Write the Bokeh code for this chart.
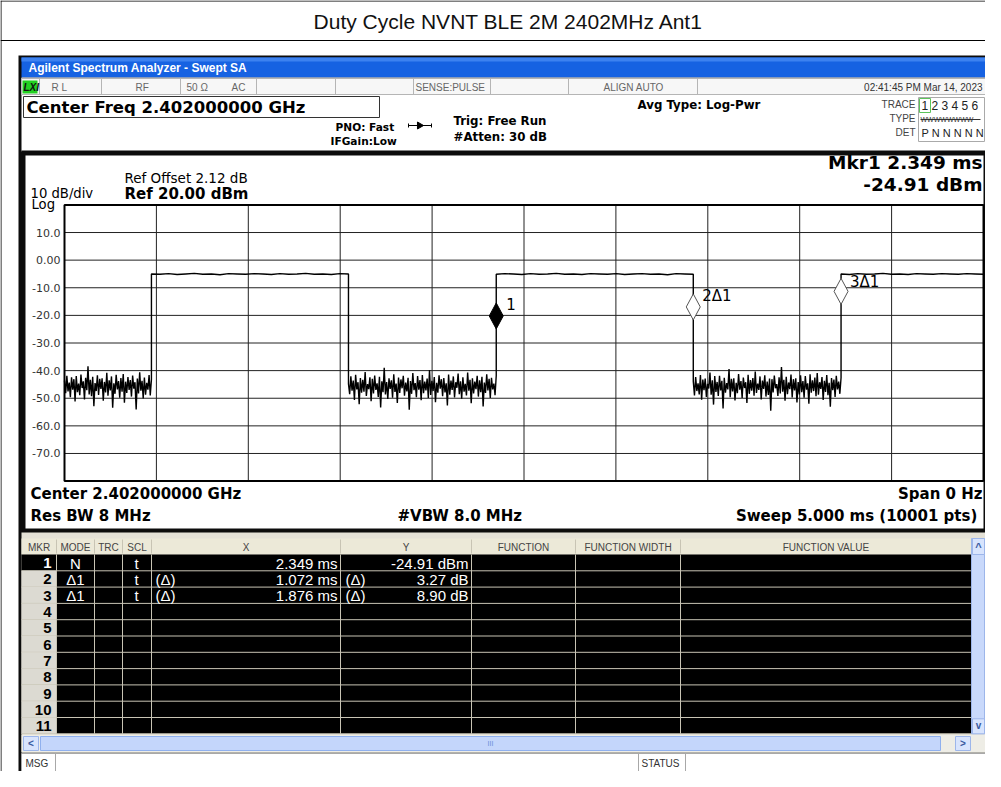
import numpy as np
from bokeh.plotting import figure
from bokeh.models import Range1d
from bokeh.core.properties import value
from bokeh.embed import file_html
from bokeh.resources import INLINE

# ---------------- data ----------------
title_text = "Duty Cycle NVNT BLE 2M 2402MHz Ant1"
ref_level_dbm = 20.0
bottom_dbm = -80.0
sweep_ms = 5.0
y_tick_values = [10, 0, -10, -20, -30, -40, -50, -60, -70]
y_tick_labels = ["10.0", "0.00", "-10.0", "-20.0", "-30.0", "-40.0", "-50.0", "-60.0", "-70.0"]
x_grid_ms = [0.5, 1.0, 1.5, 2.0, 2.5, 3.0, 3.5, 4.0, 4.5]

segment_start_ms = [0.000, 0.473, 1.545, 2.349, 3.421, 4.225]
segment_end_ms = [0.473, 1.545, 2.349, 3.421, 4.225, 5.000]

noise_a_dbm = [-43.6, -48.2, -41.9, -47.5, -44.3, -49.6, -42.4, -46.9, -43.1, -51.2, -42.0, -47.8, -44.7, -48.9,
               -41.4, -46.3, -43.9, -50.4, -42.6, -47.1, -38.4, -48.6, -43.3, -49.3, -42.2, -52.9, -44.5, -47.4,
               -41.7, -48.8, -43.0, -46.6, -42.8, -50.9, -44.1, -47.9, -40.8, -49.1, -43.5, -47.2, -42.1, -53.4,
               -44.6, -48.4, -41.5, -46.8, -43.8, -49.8, -42.7, -47.6, -41.2, -51.6, -44.0, -48.1, -42.3, -47.0,
               -43.4, -49.4, -41.8, -46.5, -44.2, -54.1, -42.9, -48.3, -40.6, -47.3, -43.7, -50.1, -42.5, -48.7,
               -44.4, -46.9, -41.6, -49.0, -43.2]
high_b_dbm = [-5.0, -5.1, -4.9, -5.2, -5.0, -4.8, -5.1, -5.0, -5.3, -4.9, -5.0, -5.1, -4.9, -5.0, -5.2, -4.9,
              -5.1, -5.0, -4.8, -5.1, -5.0, -5.2, -4.9, -5.0]
noise_c_dbm = [-44.8, -48.5, -42.1, -47.3, -43.6, -50.6, -41.5, -46.8, -44.2, -52.2, -42.7, -48.0, -43.3, -47.6,
               -40.5, -49.2, -44.9, -46.7, -42.4, -51.1, -43.0, -48.3, -41.8, -47.0, -44.6, -49.5, -42.2, -53.3,
               -43.9, -47.8, -39.0, -48.6, -44.1, -50.3, -42.8, -46.6, -43.5, -49.8, -41.3, -47.7, -44.7, -51.7,
               -42.5, -48.1, -43.2, -46.4, -41.9, -49.1, -44.3, -47.5, -42.6, -54.2, -43.8, -48.4, -40.9, -47.1,
               -44.5, -49.6, -42.0, -46.9, -43.4, -50.7, -41.6, -48.2, -44.0, -47.2, -42.9, -49.9, -39.8, -48.8,
               -43.7, -47.4, -42.3, -51.4, -44.4, -48.0, -41.7, -46.5, -43.1, -49.3, -42.7, -47.9, -44.6, -52.6,
               -41.4, -48.7, -43.6, -47.0, -42.1, -49.7, -44.2, -46.2, -41.1, -48.5, -43.9, -50.2, -42.4, -47.6,
               -44.8, -49.0, -40.7, -47.3, -43.3, -51.8, -42.8, -48.3, -44.0, -46.7, -41.9, -49.4, -43.5, -47.8,
               -42.2, -53.0, -44.3, -48.1, -41.3, -47.2, -43.0, -49.9, -42.6, -46.8, -44.7, -48.9, -41.8]
high_d_dbm = [-5.1, -4.9, -5.0, -5.2, -4.9, -5.1, -5.0, -4.8, -5.1, -5.0, -5.2, -4.9, -5.0, -5.1, -4.9, -5.2,
              -5.0, -4.9, -5.1, -5.0, -5.3, -4.9, -5.0, -5.1]
noise_e_dbm = [-43.9, -49.0, -42.3, -47.4, -44.6, -48.6, -41.6, -50.5, -43.2, -47.1, -42.9, -49.5, -44.8, -46.5,
               -40.7, -48.7, -43.5, -52.3, -42.0, -47.7, -44.1, -49.2, -41.9, -47.2, -43.7, -53.7, -42.6, -48.0,
               -44.5, -46.8, -39.4, -49.6, -43.0, -47.5, -42.8, -50.8, -44.4, -48.2, -41.2, -46.9, -43.8, -49.9,
               -42.5, -46.3, -44.2, -51.7, -41.5, -48.4, -43.4, -47.3, -42.7, -49.1, -40.3, -48.1, -44.7, -47.0,
               -42.1, -50.4, -43.6, -46.6, -41.7, -49.4, -44.0, -48.8, -42.9, -54.5, -43.1, -47.9, -41.8, -46.4,
               -44.9, -49.2, -42.4, -48.3, -38.7, -47.6, -43.3, -50.9, -42.2, -48.5, -44.3, -46.7, -41.4, -49.7,
               -43.1, -47.2, -42.8, -51.5, -44.1, -48.6, -41.7, -47.8, -43.8, -49.8, -42.0, -46.9, -44.6, -52.0,
               -41.3, -48.0, -43.5, -47.4, -42.5, -49.3, -40.9, -48.7, -44.2, -46.6, -42.3, -50.6, -43.7, -47.7,
               -41.6, -48.9, -44.4, -53.1, -42.7, -47.1, -43.2, -49.5, -41.9, -46.8, -44.0, -48.4, -42.6]
high_f_dbm = [-5.0, -5.2, -4.9, -5.1, -5.0, -4.8, -5.1, -5.0, -5.2, -4.9, -5.0, -5.1, -4.9, -5.0, -5.1, -4.9,
              -5.0, -5.1]
segment_values = [noise_a_dbm, high_b_dbm, noise_c_dbm, high_d_dbm, noise_e_dbm, high_f_dbm]

mkr_numbers = ["1", "2", "3", "4", "5", "6", "7", "8", "9", "10", "11"]
mkr_modes = ["N", "Δ1", "Δ1"]
mkr_scl = ["t", "t", "t"]
mkr_x_ms = [2.349, 1.072, 1.876]
mkr_y_db = [-24.91, 3.27, 8.90]
mkr_x_text = ["2.349 ms", "1.072 ms", "1.876 ms"]
mkr_y_text = ["-24.91 dBm", "3.27 dB", "8.90 dB"]
mkr_labels = ["1", "2Δ1", "3Δ1"]

# ---------------- layout ----------------
W, H = 985, 771
GX0, GX1 = 64.0, 983.0      # graticule pixel extent (x)
GY0, GY1 = 204.4, 480.6     # graticule pixel extent (y)
FA = "Liberation Sans"
FD = "DejaVu Sans"

p = figure(width=W, height=H, x_range=Range1d(0, W), y_range=Range1d(H, 0),
           x_axis_type=None, y_axis_type=None, toolbar_location=None,
           output_backend="svg", min_border=0, outline_line_color=None)
p.background_fill_color = "white"
p.border_fill_color = "white"

px_per_ms = (GX1 - GX0) / sweep_ms
px_per_db = (GY1 - GY0) / (ref_level_dbm - bottom_dbm)
p.extra_x_ranges = {"ms": Range1d((0 - GX0) / px_per_ms, (W - GX0) / px_per_ms)}
p.extra_y_ranges = {"dbm": Range1d(ref_level_dbm - (H - GY0) / px_per_db,
                                   ref_level_dbm - (0 - GY0) / px_per_db)}


def rect(l, t, r, b, fill=None, line=None, lw=1):
    p.quad(left=[l], right=[r], top=[t], bottom=[b], fill_color=fill,
           line_color=line, line_width=lw)


def seg(x0, y0, x1, y1, color="#000", lw=1):
    p.segment(x0=[x0], y0=[y0], x1=[x1], y1=[y1], line_color=color, line_width=lw)


def txt(x, y, s, size=12, bold=False, color="#000", align="left", baseline="middle",
        font=FA, italic=False):
    style = "bold" if bold else "normal"
    if italic:
        style = "bold italic" if bold else "italic"
    p.text(x=[x], y=[y], text=[s], text_font=value(font), text_font_size=f"{size}px",
           text_font_style=style, text_color=color, text_align=align, text_baseline=baseline)


# ---- outer page table ----
seg(0, 40, 1001, 40, "#000", 1)
seg(0.5, 0, 0.5, 787, "#000", 1)
seg(0, 0.5, 1001, 0.5, "#000", 1)
txt(508, 21, title_text, size=21, align="center", color="#111")

# ---- analyzer screenshot frame ----
rect(18, 55, 990, 787, fill="#0c0c0c", line=None)
rect(21, 57, 987, 77, fill="#1662e2", line=None)
rect(21, 57, 987, 61, fill="#3d82f0", line=None)
txt(28, 67, "Agilent Spectrum Analyzer - Swept SA", size=12, bold=True, color="white")

# status row
rect(21, 77, 989, 151, fill="white", line=None)
rect(21, 78, 988, 94, fill="#f7f7f7", line="#b5b5b5")
for xs in [39, 101, 180, 256, 335, 413, 490, 568, 697]:
    seg(xs, 78, xs, 94, "#b5b5b5")
rect(22, 80, 37, 93, fill="#22d122", line=None)
txt(23, 87, "LXI", size=10, bold=True, italic=True, color="#111")
status_items = [(51, "R L"), (135, "RF"), (186, "50 Ω"), (231, "AC"), (415, "SENSE:PULSE"), (603, "ALIGN AUTO")]
for xs, s in status_items:
    txt(xs, 87, s, size=10, color="#666")
txt(982, 87, "02:41:45 PM Mar 14, 2023", size=10, color="#333", align="right")

rect(23, 96, 379, 117, fill="white", line="#333")
txt(26, 107, "Center Freq 2.402000000 GHz", size=16.5, bold=True, font=FD)
txt(335, 126, "PNO: Fast", size=10.6, bold=True, font=FD)
txt(330, 140, "IFGain:Low", size=10.6, bold=True, font=FD)
seg(408, 125, 431, 125, "#000", 1)
p.scatter(x=[419], y=[125], marker="triangle", size=7, angle=-np.pi / 2,
          fill_color="#000", line_color="#000")
seg(408, 123, 408, 127)
seg(431, 123, 431, 127)
txt(453, 120, "Trig: Free Run", size=11.8, bold=True, font=FD)
txt(453, 136, "#Atten: 30 dB", size=11.8, bold=True, font=FD)
txt(637, 104, "Avg Type: Log-Pwr", size=11.8, bold=True, font=FD)

# trace box
txt(915, 104, "TRACE", size=10, color="#444", align="right")
txt(915, 118, "TYPE", size=10, color="#444", align="right")
txt(915, 132, "DET", size=10, color="#444", align="right")
rect(918, 97, 984, 141, fill="white", line="#aaaaaa")
rect(919, 98, 930, 112, fill=None, line="#5cc45c")
txt(921, 105, "1 2 3 4 5 6", size=12, color="#222")
txt(920, 119, "WWWWWWWW", size=7, color="#333")
seg(920, 119, 980, 119, "#333", 1)
txt(921, 132, "P N N N N N", size=11, color="#222")

# ---- graticule panel ----
rect(21, 150, 989, 532, fill="#0c0c0c", line=None)
rect(25, 155, 983, 528, fill="white", line=None)
txt(124, 177, "Ref Offset 2.12 dB", size=13.5, font=FD)
txt(124, 193, "Ref 20.00 dBm", size=15, bold=True, font=FD)
txt(30, 193, "10 dB/div", size=13.2, font=FD)
txt(31, 204, "Log", size=13.2, font=FD)
txt(982, 162, "Mkr1 2.349 ms", size=18.5, bold=True, align="right", font=FD)
txt(982, 184, "-24.91 dBm", size=18.5, bold=True, align="right", font=FD)
txt(30, 493, "Center 2.402000000 GHz", size=15, bold=True, font=FD)
txt(30, 515, "Res BW 8 MHz", size=15, bold=True, font=FD)
txt(397, 515, "#VBW 8.0 MHz", size=15, bold=True, font=FD)
txt(982, 493, "Span 0 Hz", size=15, bold=True, align="right", font=FD)
txt(982, 515, "Sweep  5.000 ms (10001 pts)", size=15, bold=True, align="right", font=FD)

R = dict(x_range_name="ms", y_range_name="dbm")
n = len(x_grid_ms)
p.segment(x0=x_grid_ms, y0=[bottom_dbm] * n, x1=x_grid_ms, y1=[ref_level_dbm] * n,
          line_color="#222", line_width=1, **R)
m = len(y_tick_values)
p.segment(x0=[0.0] * m, y0=y_tick_values, x1=[sweep_ms] * m, y1=y_tick_values,
          line_color="#222", line_width=1, **R)
p.quad(left=[0.0], right=[sweep_ms], top=[ref_level_dbm], bottom=[bottom_dbm],
       fill_color=None, line_color="#000", line_width=2, **R)
p.text(x=[0.0] * m, y=y_tick_values, text=y_tick_labels, x_offset=-4,
       text_align="right", text_baseline="middle", text_font=value(FD),
       text_font_size="11px", text_color="#333", **R)

# trace
t_all, v_all = [], []
for s0, s1, vals in zip(segment_start_ms, segment_end_ms, segment_values):
    t_all.extend(np.linspace(s0, s1, len(vals)).tolist())
    v_all.extend(vals)
p.line(x=t_all, y=v_all, line_color="#000", line_width=1.4, **R)

# markers (diamond whose lower tip sits on the marker point)
mk_t = [mkr_x_ms[0], mkr_x_ms[0] + mkr_x_ms[1], mkr_x_ms[0] + mkr_x_ms[2]]
mk_v = [mkr_y_db[0], mkr_y_db[0] + mkr_y_db[1], mkr_y_db[0] + mkr_y_db[2]]
hw = 7.0 / px_per_ms
hh = 13.0 / px_per_db
xs_d = [[t, t + hw, t, t - hw] for t in mk_t]
ys_d = [[v, v + hh, v + 2 * hh, v + hh] for v in mk_v]
p.patches(xs=xs_d[:1], ys=ys_d[:1], fill_color="#000", line_color="#000", **R)
p.patches(xs=xs_d[1:], ys=ys_d[1:], fill_color="white", line_color="#555", line_width=1, **R)
p.text(x=mk_t, y=mk_v, text=mkr_labels, x_offset=[10, 9, 9], y_offset=[-25, -24, -22],
       text_align="left", text_baseline="middle", text_font=value(FD),
       text_font_size="15px", text_color="#000", **R)

# ---- marker table ----
rect(21, 532, 989, 752, fill="#e4e1d6", line=None)
TOP = 538.0
HDR = 554.0
RH = 16.3
cols = [21, 56, 94, 122, 151, 340, 471, 575, 680, 971]
rect(21, TOP, 971, HDR, fill="#ece9d8", line=None)
hdr_names = ["MKR", "MODE", "TRC", "SCL", "X", "Y", "FUNCTION", "FUNCTION WIDTH", "FUNCTION VALUE"]
for i, h in enumerate(hdr_names):
    txt((cols[i] + cols[i + 1]) / 2, (TOP + HDR) / 2 + 0.5, h, size=10, color="#444", align="center")
    seg(cols[i + 1], TOP + 1, cols[i + 1], HDR - 1, "#c8c4b4")
nrows = len(mkr_numbers)
body_bottom = HDR + nrows * RH
rect(56, HDR, 971, body_bottom, fill="#000", line=None)
for i in range(nrows):
    y0 = HDR + i * RH
    yc = y0 + RH / 2 + 0.5
    if i == 0:
        rect(21, y0, 56, y0 + RH, fill="#000", line=None)
        txt(51, yc, mkr_numbers[i], size=15, bold=True, color="white", align="right")
    else:
        rect(21, y0, 56, y0 + RH, fill="#dcdad2", line=None)
        txt(51, yc, mkr_numbers[i], size=15, bold=True, color="#000", align="right")
    seg(21, y0 + RH, 971, y0 + RH, "#c8c4b4", 1)
    if i < len(mkr_modes):
        txt(75, yc, mkr_modes[i], size=15, color="white", align="center")
        txt(136, yc, mkr_scl[i], size=15, color="white", align="center")
        txt(337, yc, mkr_x_text[i], size=15, color="white", align="right")
        txt(468, yc, mkr_y_text[i], size=15, color="white", align="right")
        if i > 0:
            txt(155, yc, "(Δ)", size=15, color="white")
            txt(345, yc, "(Δ)", size=15, color="white")
for xc in cols[1:-1]:
    seg(xc, HDR, xc, body_bottom, "#c8c4b4", 1)

# vertical scrollbar
rect(971, TOP, 984, body_bottom, fill="#c9d9fb", line="#9db6ea")
rect(972, TOP, 984, HDR, fill="#d8e4fd", line="#9db6ea")
txt(978, HDR - 8, "^", size=11, bold=True, color="#3a5aa0", align="center")
rect(972, body_bottom - 15, 984, body_bottom, fill="#d8e4fd", line="#9db6ea")
txt(978, body_bottom - 8, "v", size=10, bold=True, color="#3a5aa0", align="center")

# horizontal scrollbar
rect(21, body_bottom + 1, 989, 752, fill="#eeede6", line=None)
rect(23, 736, 38, 750, fill="#d8e4fd", line="#9db6ea")
txt(30.5, 743, "<", size=10, bold=True, color="#3a5aa0", align="center")
rect(40, 736, 940, 750, fill="#c4d6fb", line="#8fb0ee")
txt(490, 743, "III", size=7, color="#6b8fd8", align="center")
rect(955, 736, 970, 750, fill="#d8e4fd", line="#9db6ea")
txt(962.5, 743, ">", size=10, bold=True, color="#3a5aa0", align="center")

# message bar
rect(21, 753, 988, 786, fill="white", line="#a8a8a8")
seg(55, 753, 55, 786, "#a8a8a8")
seg(638, 753, 638, 786, "#a8a8a8")
seg(685, 753, 685, 786, "#a8a8a8")
txt(25, 763, "MSG", size=10, color="#333")
txt(641, 763, "STATUS", size=10, color="#333")

open("out.html", "w").write(file_html(p, INLINE))
